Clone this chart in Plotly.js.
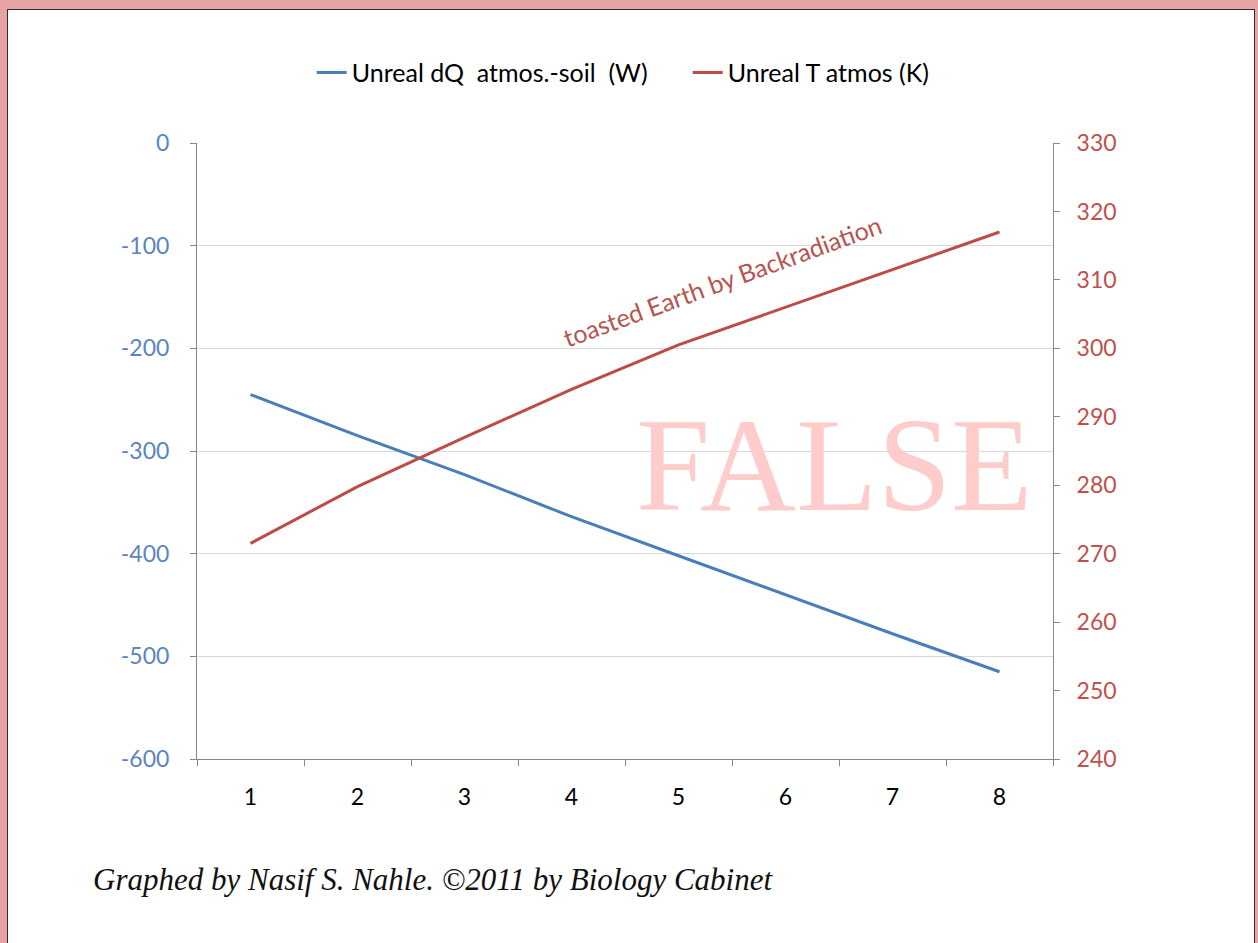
<!DOCTYPE html>
<html>
<head>
<meta charset="utf-8">
<script src="https://cdn.plot.ly/plotly-3.0.1.min.js"></script>
<style>
  html, body { margin:0; padding:0; width:1258px; height:943px; overflow:hidden; background:#e6a3a3; }
  #frame { position:absolute; left:7px; top:9px; width:1246px; height:940px; background:#ffffff; border:1px solid #3a2a2a; }
  #chart { position:absolute; left:0; top:0; width:1258px; height:943px; }
</style>
</head>
<body>
<div id="frame"></div>
<div id="chart"></div>
<script>
const categories = [1, 2, 3, 4, 5, 6, 7, 8];
const dQ_atmos_soil = [-245, -285, -323, -364, -402, -440, -478, -515];
const T_atmos = [271.5, 279.8, 287, 294, 300.5, 306, 311.5, 317];
const seriesNames = ["Unreal dQ  atmos.-soil  (W)", "Unreal T atmos (K)"];
const leftTicks = [0, -100, -200, -300, -400, -500, -600];
const rightTicks = [240, 250, 260, 270, 280, 290, 300, 310, 320, 330];

const blue = '#4a7ebb';
const red = '#be4b48';
const fontFam = 'Lato, "Open Sans", sans-serif';

const traces = [
  { x: categories, y: dQ_atmos_soil, name: seriesNames[0], type: 'scatter', mode: 'lines',
    line: { color: blue, width: 3 }, yaxis: 'y' },
  { x: categories, y: T_atmos, name: seriesNames[1], type: 'scatter', mode: 'lines',
    line: { color: red, width: 3 }, yaxis: 'y2' }
];

const layout = {
  width: 1258, height: 943,
  paper_bgcolor: 'rgba(0,0,0,0)', plot_bgcolor: 'rgba(0,0,0,0)',
  margin: { l: 197, r: 205, t: 143, b: 184 },
  font: { family: fontFam, size: 23, color: '#000' },
  showlegend: true,
  legend: { orientation: 'h', x: 0.134, xanchor: 'left', y: 1.114, yanchor: 'middle',
    yref: 'paper', font: { family: fontFam, size: 25, color: '#000' },
    itemwidth: 30, tracegroupgap: 0, entrywidth: 331, entrywidthmode: 'pixels' },
  xaxis: {
    range: [0.5, 8.5], tickvals: categories, ticktext: categories.map(String),
    ticks: '', showgrid: false, zeroline: false,
    showline: true, linecolor: '#888888', linewidth: 1,
    tickfont: { family: fontFam, size: 23, color: '#000' },
    ticklabelstandoff: 17,
    minor: { ticks: 'outside', tick0: 0.5, dtick: 1, ticklen: 6, tickcolor: '#888888', showgrid: false }
  },
  yaxis: {
    range: [-600, 0], tickvals: leftTicks, ticktext: leftTicks.map(String),
    ticks: 'outside', ticklen: 6, tickcolor: '#888888',
    showgrid: true, gridcolor: '#d9d9d9', gridwidth: 1, zeroline: false,
    showline: true, linecolor: '#888888', linewidth: 1,
    tickfont: { family: fontFam, size: 23, color: '#5a86bd' },
    ticklabelstandoff: 16
  },
  yaxis2: {
    range: [240, 330], tickvals: rightTicks, ticktext: rightTicks.map(String),
    overlaying: 'y', side: 'right', anchor: 'x',
    ticks: 'outside', ticklen: 6, tickcolor: '#888888',
    showgrid: false, zeroline: false,
    showline: true, linecolor: '#888888', linewidth: 1,
    tickfont: { family: fontFam, size: 23, color: '#c0504d' },
    ticklabelstandoff: 12
  },
  annotations: [
    { text: 'FALSE', xref: 'paper', yref: 'paper', x: 0.745, y: 0.478,
      xanchor: 'center', yanchor: 'middle', showarrow: false,
      font: { family: '"Liberation Serif", "Times New Roman", serif', size: 133, color: '#ffcccc' } },
    { text: 'toasted Earth by Backradiation', xref: 'paper', yref: 'paper',
      x: 0.613, y: 0.776, xanchor: 'center', yanchor: 'middle', showarrow: false, textangle: -20,
      font: { family: fontFam, size: 25, color: '#b85450' } },
    { text: '<i>Graphed by Nasif S. Nahle. ©2011 by Biology Cabinet</i>', xref: 'paper', yref: 'paper',
      x: -0.124, y: -0.195, xanchor: 'left', yanchor: 'middle', showarrow: false,
      font: { family: '"Liberation Serif", "Times New Roman", serif', size: 31, color: '#111' } }
  ]
};

Plotly.newPlot('chart', traces, layout, { displayModeBar: false, staticPlot: true });
</script>
</body>
</html>
